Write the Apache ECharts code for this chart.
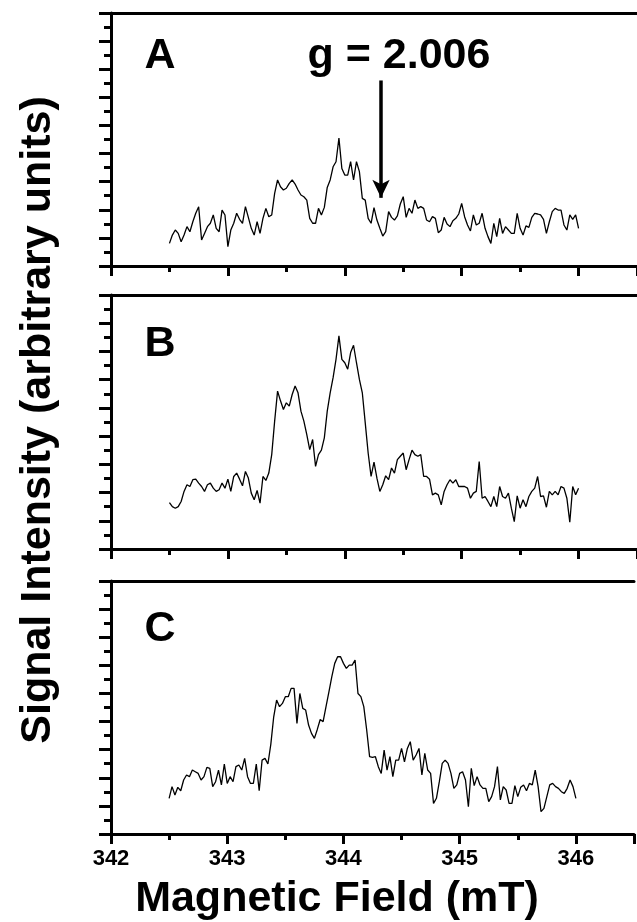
<!DOCTYPE html>
<html>
<head>
<meta charset="utf-8">
<script src="https://cdn.jsdelivr.net/npm/echarts@6/dist/echarts.min.js"></script>
<style>
html,body{margin:0;padding:0;background:#fff;}
#chart{width:637px;height:922px;}
</style>
</head>
<body>
<div id="chart"></div>
<script>
// Field sampling grid (mT)
const FIELD_START = 342.5;
const FIELD_STEP = 0.025;

// x axis
const X_MIN = 342, X_MAX = 346.5, X_INTERVAL = 1;
const xTickLabels = ['342', '343', '344', '345', '346'];

// panel labels
const panelLabels = ['A', 'B', 'C'];
const gMarkerField = 344.31;
const gMarkerText = 'g = 2.006';

// signal intensity (arbitrary units), one value per field step
const sigA = [
1.61,2.20,2.56,2.32,1.73,2.20,2.80,2.44,3.15,3.75,
4.22,1.85,2.32,2.80,3.04,3.63,2.68,2.44,3.98,3.63,
1.38,2.56,3.04,3.75,3.32,3.04,4.22,3.46,2.68,2.20,
3.15,2.32,3.39,4.10,3.51,3.63,5.17,6.12,5.64,5.41,
5.53,5.88,6.12,5.83,5.41,5.05,4.93,4.69,3.39,3.04,
3.04,4.10,3.63,4.17,5.59,6.12,7.06,7.42,9.10,6.94,
6.47,6.47,7.42,6.12,7.42,6.71,4.81,4.69,3.39,3.04,
4.15,3.27,2.68,2.13,2.44,3.87,3.46,3.27,3.56,4.41,
4.93,3.46,4.10,3.75,4.69,4.10,4.22,4.10,3.27,3.15,
3.51,3.39,2.37,2.56,3.46,2.99,2.80,3.22,3.39,3.70,
4.46,3.51,2.92,2.49,3.63,2.92,3.04,3.75,2.68,2.09,
1.61,3.04,2.09,3.39,2.32,2.80,2.56,2.32,2.32,3.75,
2.68,2.20,2.85,2.75,3.46,3.75,3.70,3.63,3.32,2.32,
3.15,3.87,4.10,3.98,3.98,2.92,2.56,3.63,3.32,3.63,
2.68
];
const sigB = [
3.29,3.00,2.89,3.00,3.37,4.08,4.55,4.43,4.91,4.95,
4.67,4.43,4.08,4.55,4.67,4.31,4.08,4.20,4.67,4.31,
4.95,4.08,5.14,5.38,4.95,4.48,5.50,5.03,3.96,3.49,
4.15,3.25,5.14,4.86,5.38,6.69,9.06,11.19,10.50,9.89,
10.36,10.12,10.95,11.55,11.07,9.77,9.06,8.11,7.04,7.76,
5.86,6.69,7.00,7.88,9.77,11.07,12.14,13.44,15.10,13.44,
13.20,12.74,13.92,14.44,13.20,12.02,11.07,8.94,6.80,5.14,
6.15,5.02,4.08,4.55,5.19,4.91,5.74,5.38,6.33,6.57,
6.80,5.62,6.33,7.00,6.69,6.57,6.69,5.14,5.14,4.95,
3.84,3.96,3.84,3.13,4.08,4.55,4.91,4.67,4.91,4.43,
4.43,4.43,4.31,3.60,3.96,4.08,6.20,3.60,3.72,3.37,
3.00,3.72,3.00,4.43,3.72,3.60,3.96,2.89,1.94,3.77,
2.89,3.49,3.00,3.72,4.08,4.31,5.14,3.72,3.77,2.96,
4.08,3.84,4.08,3.84,4.43,4.31,3.60,1.90,4.43,3.84,
4.31
];
const sigC = [
2.54,3.37,2.78,3.32,3.08,3.84,4.20,4.08,4.55,4.43,
4.31,3.84,4.08,4.74,4.67,3.37,3.72,4.55,3.49,4.98,
3.60,4.08,3.72,4.79,4.91,4.55,5.38,4.08,3.60,3.60,
4.98,3.08,5.26,5.38,4.98,6.38,8.34,9.53,9.06,9.29,
9.77,9.77,10.36,10.36,7.87,10.00,8.94,8.82,7.75,7.16,
6.80,7.44,8.15,7.99,9.06,10.12,11.19,12.14,12.61,12.61,
12.14,11.78,12.02,12.02,12.38,10.00,9.77,9.06,7.40,5.50,
5.45,5.50,4.79,4.31,5.97,4.55,5.50,4.08,5.26,5.26,
6.09,5.14,6.09,6.57,5.26,5.62,6.09,4.20,5.74,4.55,
4.31,2.18,2.54,3.72,5.02,5.26,5.02,4.31,3.25,3.49,
4.31,4.43,3.84,1.94,4.67,3.44,4.08,3.49,3.25,3.25,
2.30,2.66,3.37,4.79,2.42,3.37,3.13,2.18,2.18,3.44,
2.66,3.32,3.49,3.08,3.60,3.49,4.55,3.37,1.59,1.82,
2.66,3.49,3.60,3.37,3.25,3.01,2.89,3.25,3.84,3.37,
2.54
];

const Y_MIN = 0, Y_MAX = 18, Y_INTERVAL = 2;

const toXY = arr => arr.map((v, i) => [+(FIELD_START + i * FIELD_STEP).toFixed(4), v]);

const FONT = "'Liberation Sans', Arial, Helvetica, sans-serif";
const NARROW = "'Liberation Sans Narrow', 'Liberation Sans', Arial, sans-serif";

const grids = [
  {left: 111, top: 13, width: 533, height: 253},
  {left: 111, top: 295, width: 533, height: 254},
  {left: 111, top: 581, width: 533, height: 253}
];

const xAxes = [], yAxes = [];
grids.forEach((g, i) => {
  xAxes.push({
    type: 'value', gridIndex: i, position: 'bottom', min: X_MIN, max: X_MAX, interval: X_INTERVAL,
    axisLine: {show: true, onZero: false, lineStyle: {color: '#000', width: 3}},
    axisTick: {show: true, inside: false, length: 10, lineStyle: {color: '#000', width: 3}},
    minorTick: {show: true, splitNumber: 2, length: 6, lineStyle: {color: '#000', width: 3}},
    splitLine: {show: false},
    axisLabel: {
      show: i === 2, margin: 14, color: '#000', fontSize: 22, fontWeight: 'bold', fontFamily: NARROW,
      formatter: v => { const k = Math.round(v - X_MIN); return (Math.abs(v - Math.round(v)) < 1e-6 && xTickLabels[k]) ? xTickLabels[k] : ''; }
    }
  });
  xAxes.push({
    type: 'value', gridIndex: i, position: 'top', min: X_MIN, max: X_MAX,
    axisLine: {show: true, onZero: false, lineStyle: {color: '#000', width: 3}},
    axisTick: {show: false}, axisLabel: {show: false}, splitLine: {show: false}
  });
  yAxes.push({
    type: 'value', gridIndex: i, position: 'left', min: Y_MIN, max: Y_MAX, interval: Y_INTERVAL,
    axisLine: {show: true, onZero: false, lineStyle: {color: '#000', width: 3}},
    axisTick: {show: true, inside: false, length: 12, lineStyle: {color: '#000', width: 3}},
    minorTick: {show: true, splitNumber: 2, length: 7, lineStyle: {color: '#000', width: 3}},
    splitLine: {show: false},
    axisLabel: {show: false}
  });
});

const sigs = [sigA, sigB, sigC];
const series = sigs.map((s, i) => {
  const o = {
    type: 'line', xAxisIndex: i * 2, yAxisIndex: i, data: toXY(s),
    showSymbol: false, symbol: 'none', animation: false, silent: true,
    lineStyle: {color: '#000', width: 1.3}
  };
  if (i === 0) {
    o.markLine = {
      silent: true, animation: false,
      symbol: ['none', 'arrow'], symbolSize: [13, 18],
      label: {show: false},
      lineStyle: {color: '#000', width: 3.5, type: 'solid'},
      data: [[{coord: [gMarkerField, 13.2]}, {coord: [gMarkerField, 4.85]}]]
    };
  }
  return o;
});

const labelY = [56, 344, 629];
const graphics = panelLabels.map((t, i) => ({
  type: 'text', x: 160, y: labelY[i],
  style: {text: t, font: "bold 43px " + FONT, fill: '#000', textAlign: 'center', textVerticalAlign: 'middle'}
}));
graphics.push({
  type: 'text', x: 399, y: 56,
  style: {text: gMarkerText, font: "bold 43px " + FONT, fill: '#000', textAlign: 'center', textVerticalAlign: 'middle'}
});
graphics.push({
  type: 'text', x: 337, y: 899,
  style: {text: 'Magnetic Field (mT)', font: "bold 43px " + FONT, fill: '#000', textAlign: 'center', textVerticalAlign: 'middle'}
});
graphics.push({
  type: 'text', x: 38, y: 420, rotation: Math.PI / 2,
  style: {text: 'Signal Intensity (arbitrary units)', font: "bold 43px " + FONT, fill: '#000', textAlign: 'center', textVerticalAlign: 'middle'}
});

const chart = echarts.init(document.getElementById('chart'), null, {renderer: 'canvas'});
chart.setOption({
  animation: false,
  backgroundColor: '#fff',
  grid: grids,
  xAxis: xAxes,
  yAxis: yAxes,
  series: series,
  graphic: graphics
});
</script>
</body>
</html>
